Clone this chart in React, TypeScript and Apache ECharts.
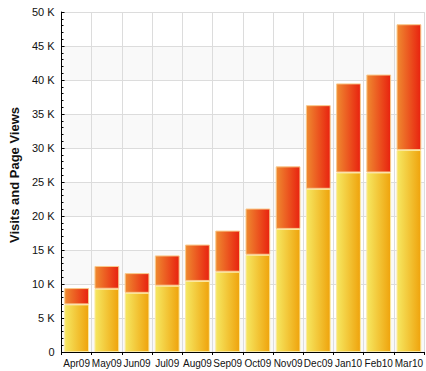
import React, { useEffect, useRef } from "react";
import * as echarts from "echarts";

const months = ["Apr09", "May09", "Jun09", "Jul09", "Aug09", "Sep09", "Oct09", "Nov09", "Dec09", "Jan10", "Feb10", "Mar10"];
const visits = [7000, 9300, 8700, 9750, 10450, 11800, 14300, 18100, 24000, 26400, 26400, 29700];
const pageViewsExtra = [2400, 3350, 2900, 4450, 5350, 6050, 6800, 9200, 12300, 13100, 14400, 18500];
const yAxisTitle = "Visits and Page Views";

export default function App() {
  const ref = useRef<HTMLDivElement>(null);
  useEffect(() => {
    if (!ref.current) return;
    const chart = echarts.init(ref.current, undefined, { renderer: "svg" });
    const yellow = new echarts.graphic.LinearGradient(0, 0, 1, 0, [
      { offset: 0, color: "#f6e862" },
      { offset: 1, color: "#efa30c" },
    ]);
    const red = new echarts.graphic.LinearGradient(0, 0, 1, 0, [
      { offset: 0, color: "#ef8a30" },
      { offset: 1, color: "#e8220f" },
    ]);
    chart.setOption({
      animation: false,
      textStyle: { fontFamily: "Liberation Sans, Arial, sans-serif" },
      grid: { left: 60, right: 1, top: 12, bottom: 19, containLabel: false },
      xAxis: {
        type: "category",
        data: months,
        axisLine: { lineStyle: { color: "#000", width: 1 } },
        axisTick: { show: true, length: 3, lineStyle: { color: "#000" } },
        axisLabel: { color: "#111", fontSize: 10, margin: 6, interval: 0 },
        splitLine: { show: true, interval: 0, lineStyle: { color: "#dcdcdc", width: 1 } },
      },
      yAxis: {
        type: "value",
        min: 0,
        max: 50000,
        interval: 5000,
        name: yAxisTitle,
        nameLocation: "middle",
        nameGap: 40,
        nameTextStyle: { fontSize: 13, fontWeight: "bold", color: "#111", padding: [0, 0, 0, 14] },
        axisLine: { show: true, lineStyle: { color: "#000", width: 1 } },
        axisTick: { show: true, inside: true, length: 3, lineStyle: { color: "#000" } },
        minorTick: { show: true, splitNumber: 5, length: 2, lineStyle: { color: "#000" } },
        axisLabel: {
          color: "#111",
          fontSize: 11,
          margin: 7,
          formatter: (v: number) => (v === 0 ? "0" : v / 1000 + " K"),
        },
        splitLine: { show: true, lineStyle: { color: "#dcdcdc", width: 1 } },
        splitArea: { show: true, areaStyle: { color: ["#f9f9f9", "#ffffff"] } },
      },
      series: [
        {
          name: "Visits",
          type: "bar",
          stack: "total",
          data: visits,
          barCategoryGap: "18%",
          itemStyle: { color: yellow, borderColor: "#fbe9a0", borderWidth: 1 },
        },
        {
          name: "Page Views",
          type: "bar",
          stack: "total",
          data: pageViewsExtra,
          barCategoryGap: "18%",
          itemStyle: { color: red, borderColor: "#f9c98a", borderWidth: 1 },
        },
      ],
    });
    return () => chart.dispose();
  }, []);
  return <div ref={ref} style={{ position: "absolute", left: 0, top: 0, width: 426, height: 371 }} />;
}
